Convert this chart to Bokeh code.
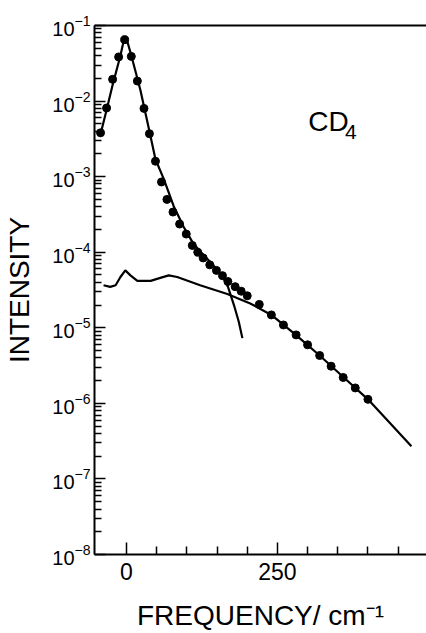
from bokeh.plotting import figure
from bokeh.models import FixedTicker, LinearAxis, Label, Range1d, LogTickFormatter
from bokeh.embed import file_html
from bokeh.resources import INLINE

# ---- data ----
dot_freq = [-43, -33, -23, -13, -3, 8, 18, 29, 38, 48, 58, 67, 77, 88, 99,
            109, 118, 127, 138, 149, 159, 168, 180, 190, 200, 220, 240, 260,
            281, 300, 320, 339, 359, 379, 400]
dot_int = [3.8e-3, 8.1e-3, 1.94e-2, 3.84e-2, 6.5e-2, 3.9e-2, 1.84e-2, 8.0e-3,
           3.7e-3, 1.6e-3, 8.5e-4, 5.0e-4, 3.4e-4, 2.36e-4, 1.74e-4, 1.23e-4,
           1.0e-4, 8.4e-5, 6.8e-5, 5.75e-5, 4.9e-5, 4.1e-5, 3.5e-5, 3.05e-5,
           2.65e-5, 2.04e-5, 1.48e-5, 1.09e-5, 8.05e-6, 5.95e-6, 4.3e-6,
           3.1e-6, 2.2e-6, 1.6e-6, 1.13e-6]

narrow_freq = [-44, -33, -23, -10, -6, -4.5, -3, -1.5, 1, 8, 23, 38, 48, 62,
               78, 95, 111, 128, 144, 158, 168, 178, 186, 192]
narrow_int = [3.4e-3, 7.6e-3, 1.63e-2, 4.0e-2, 5.6e-2, 6.6e-2, 7.0e-2, 6.9e-2,
              6.3e-2, 4.0e-2, 1.4e-2, 4.0e-3, 1.7e-3, 9.2e-4, 4.1e-4, 2.14e-4,
              1.29e-4, 9.1e-5, 6.7e-5, 4.95e-5, 3.5e-5, 2.0e-5, 1.2e-5, 7.3e-6]

broad_freq = [-38, -27, -18, -10, -2, 7, 18, 40, 56, 70, 84, 122, 167, 205,
              240, 280, 320, 360, 400, 472]
broad_int = [3.65e-5, 3.48e-5, 3.65e-5, 4.7e-5, 5.75e-5, 4.9e-5, 4.17e-5,
             4.17e-5, 4.57e-5, 4.94e-5, 4.7e-5, 3.65e-5, 2.8e-5, 2.1e-5,
             1.48e-5, 8.1e-6, 4.3e-6, 2.2e-6, 1.13e-6, 2.7e-7]

x_major = [0, 250]
x_minor = [50, 100, 150, 200, 300, 350, 400, 450]
y_major = [1e-8, 1e-7, 1e-6, 1e-5, 1e-4, 1e-3, 1e-2, 1e-1]
y_minor = [m * 10.0 ** e for e in range(-8, -1) for m in range(2, 10)]

FONT = "Liberation Sans"

p = figure(width=426, height=633, x_range=Range1d(-53, 497),
           y_range=Range1d(1e-8, 1e-1), y_axis_type="log",
           output_backend="svg", toolbar_location=None,
           min_border_left=94, min_border_top=25, min_border_right=0,
           min_border_bottom=75)
p.outline_line_color = None
p.xgrid.visible = False
p.ygrid.visible = False
p.background_fill_color = "white"

# x axis
xa = p.xaxis[0]
xa.ticker = FixedTicker(ticks=x_major, minor_ticks=x_minor)
xa.major_tick_in = 12
xa.major_tick_out = 0
xa.minor_tick_in = 8
xa.minor_tick_out = 0
xa.axis_line_width = 2
xa.major_tick_line_width = 1.5
xa.minor_tick_line_width = 1.5
xa.major_label_text_font = FONT
xa.major_label_text_font_size = "23px"
xa.major_label_text_color = "black"
xa.major_label_standoff = 8
xa.axis_label = "FREQUENCY/ cm\u207b\u00b9"
xa.axis_label_text_font = FONT
xa.axis_label_text_font_size = "28px"
xa.axis_label_text_font_style = "normal"
xa.axis_label_text_color = "black"
xa.axis_label_standoff = 17

# y axis
ya = p.yaxis[0]
ya.ticker = FixedTicker(ticks=y_major, minor_ticks=y_minor)
ya.formatter = LogTickFormatter()
ya.major_tick_in = 11
ya.major_tick_out = 0
ya.minor_tick_in = 7
ya.minor_tick_out = 0
ya.axis_line_width = 2
ya.major_tick_line_width = 1.5
ya.minor_tick_line_width = 1.5
ya.major_label_text_font = FONT
ya.major_label_text_font_size = "20px"
ya.major_label_text_color = "black"
ya.major_label_standoff = 4
ya.axis_label = "INTENSITY"
ya.axis_label_text_font = FONT
ya.axis_label_text_font_size = "28px"
ya.axis_label_text_font_style = "normal"
ya.axis_label_text_color = "black"
ya.axis_label_standoff = 14

# top frame line
top = LinearAxis(ticker=FixedTicker(ticks=[]), axis_line_width=2,
                 major_tick_line_color=None, minor_tick_line_color=None,
                 major_label_text_font_size="0px")
p.add_layout(top, "above")

p.line(narrow_freq, narrow_int, line_width=2.2, color="black")
p.line(broad_freq, broad_int, line_width=2.2, color="black")
p.scatter(dot_freq, dot_int, size=8, color="black")

p.add_layout(Label(x=301, y=5.3e-3, text="CD", text_font=FONT,
                   text_font_size="28px", text_color="black",
                   text_baseline="alphabetic"))
p.add_layout(Label(x=362, y=3.9e-3, text="4", text_font=FONT,
                   text_font_size="21px", text_color="black",
                   text_baseline="alphabetic"))

open("out.html", "w").write(file_html(p, INLINE))
